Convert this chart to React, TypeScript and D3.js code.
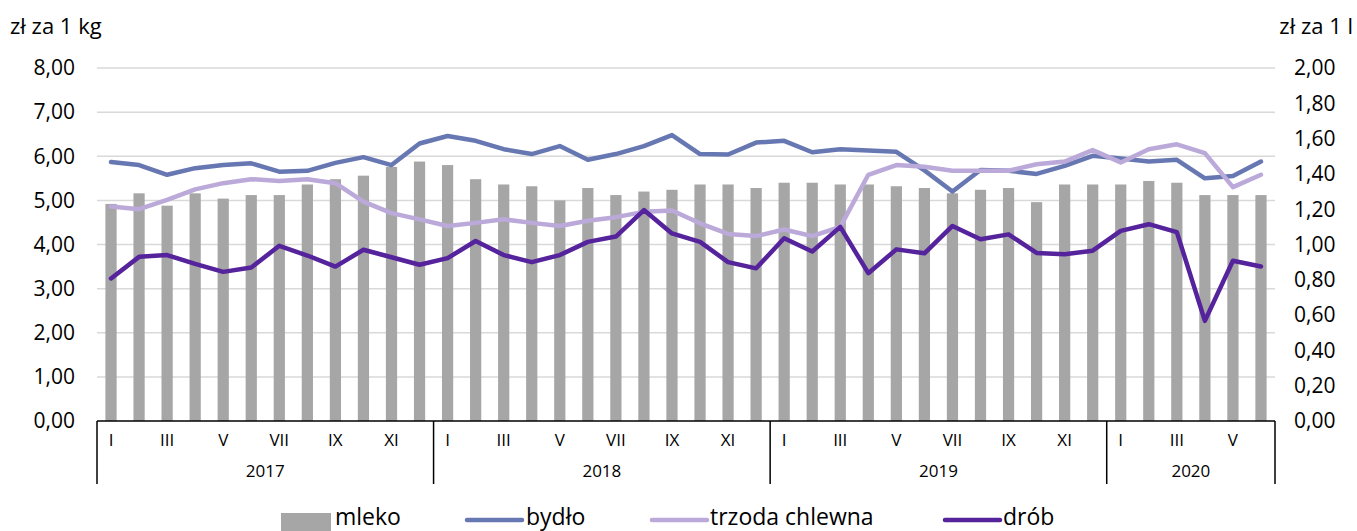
import React, { useEffect, useRef } from "react";
import * as d3 from "d3";

const years = ["2017", "2018", "2019", "2020"];
const yearMonths = [12, 12, 12, 6];
const romanMonths = ["I", "II", "III", "IV", "V", "VI", "VII", "VIII", "IX", "X", "XI", "XII"];

// zł za 1 l (right axis)
const mleko = [
  1.23, 1.29, 1.22, 1.29, 1.26, 1.28, 1.28, 1.34, 1.37, 1.39, 1.44, 1.47,
  1.45, 1.37, 1.34, 1.33, 1.25, 1.32, 1.28, 1.3, 1.31, 1.34, 1.34, 1.32,
  1.35, 1.35, 1.34, 1.34, 1.33, 1.32, 1.29, 1.31, 1.32, 1.24, 1.34, 1.34,
  1.34, 1.36, 1.35, 1.28, 1.28, 1.28,
];
// zł za 1 kg (left axis)
const bydlo = [
  5.87, 5.8, 5.58, 5.73, 5.8, 5.84, 5.65, 5.67, 5.85, 5.98, 5.8, 6.29,
  6.46, 6.35, 6.16, 6.05, 6.23, 5.92, 6.05, 6.23, 6.48, 6.05, 6.04, 6.31,
  6.35, 6.09, 6.16, 6.13, 6.1, 5.68, 5.2, 5.69, 5.67, 5.6, 5.78, 6.01,
  5.95, 5.88, 5.92, 5.5, 5.55, 5.88,
];
const trzoda = [
  4.86, 4.8, 5.01, 5.25, 5.39, 5.48, 5.44, 5.48, 5.39, 4.97, 4.71, 4.57,
  4.42, 4.49, 4.57, 4.49, 4.42, 4.54, 4.62, 4.74, 4.77, 4.48, 4.24, 4.19,
  4.34, 4.19, 4.4, 5.58, 5.8, 5.76, 5.67, 5.67, 5.67, 5.82, 5.88, 6.14,
  5.86, 6.16, 6.27, 6.07, 5.3, 5.58,
];
const drob = [
  3.23, 3.72, 3.76, 3.56, 3.38, 3.48, 3.97, 3.75, 3.5, 3.88, 3.71, 3.54,
  3.69, 4.08, 3.76, 3.6, 3.76, 4.06, 4.18, 4.78, 4.25, 4.06, 3.6, 3.46,
  4.14, 3.84, 4.4, 3.35, 3.89, 3.8, 4.42, 4.12, 4.23, 3.81, 3.78, 3.86,
  4.31, 4.46, 4.28, 2.27, 3.63, 3.5,
];

const leftTicks = [0, 1, 2, 3, 4, 5, 6, 7, 8];
const rightTicks = [0, 0.2, 0.4, 0.6, 0.8, 1.0, 1.2, 1.4, 1.6, 1.8, 2.0];

const FONT = "'Open Sans', 'Noto Sans', sans-serif";

const App = () => {
  const chartRef = useRef(null);

  useEffect(() => {
    drawChart();
  }, []);

  const drawChart = () => {
    const svg = d3.select(chartRef.current);
    svg.selectAll("*").remove();

    const width = 1357;
    const margin = { top: 68, right: 82, bottom: 110, left: 97 };
    const plotBottom = 421;

    const idx = d3.range(mleko.length);
    const x = d3
      .scaleBand()
      .domain(idx)
      .range([margin.left, width - margin.right])
      .paddingInner(0.6)
      .paddingOuter(0.3);
    const cx = (i) => x(i) + x.bandwidth() / 2;

    const yL = d3.scaleLinear().domain([0, 8]).range([plotBottom, margin.top]);
    const yR = d3.scaleLinear().domain([0, 2]).range([plotBottom, margin.top]);

    const x0 = margin.left;
    const x1 = width - margin.right;

    // gridlines
    svg
      .append("g")
      .selectAll("line")
      .data(leftTicks.slice(1))
      .join("line")
      .attr("x1", x0)
      .attr("x2", x1)
      .attr("y1", (d) => yL(d))
      .attr("y2", (d) => yL(d))
      .attr("stroke", "#d9d9d9")
      .attr("stroke-width", 1.5);

    // left axis labels
    svg
      .append("g")
      .selectAll("text")
      .data(leftTicks)
      .join("text")
      .attr("x", 75)
      .attr("y", (d) => yL(d))
      .attr("dy", "0.35em")
      .attr("text-anchor", "end")
      .style("font-family", FONT)
      .style("font-size", "21px")
      .attr("fill", "#000")
      .text((d) => d3.format(".2f")(d).replace(".", ","));

    // right axis labels
    svg
      .append("g")
      .selectAll("text")
      .data(rightTicks)
      .join("text")
      .attr("x", 1294)
      .attr("y", (d) => yR(d))
      .attr("dy", "0.35em")
      .attr("text-anchor", "start")
      .style("font-family", FONT)
      .style("font-size", "21px")
      .attr("fill", "#000")
      .text((d) => d3.format(".2f")(d).replace(".", ","));

    // axis titles
    svg
      .append("text")
      .attr("x", 10)
      .attr("y", 34)
      .style("font-family", FONT)
      .style("font-size", "22px")
      .text("zł za 1 kg");
    svg
      .append("text")
      .attr("x", 1353)
      .attr("y", 34)
      .attr("text-anchor", "end")
      .style("font-family", FONT)
      .style("font-size", "22px")
      .text("zł za 1 l");

    // bars (mleko)
    svg
      .append("g")
      .selectAll("rect")
      .data(mleko)
      .join("rect")
      .attr("x", (d, i) => x(i))
      .attr("width", x.bandwidth())
      .attr("y", (d) => yR(d))
      .attr("height", (d) => plotBottom - yR(d))
      .attr("fill", "#a6a6a6");

    // lines
    const series = [
      { data: bydlo, color: "#6777b2" },
      { data: trzoda, color: "#bba9d9" },
      { data: drob, color: "#55239b" },
    ];
    series.forEach((s) => {
      const line = d3
        .line()
        .x((d, i) => cx(i))
        .y((d) => yL(d));
      svg
        .append("path")
        .datum(s.data)
        .attr("fill", "none")
        .attr("stroke", s.color)
        .attr("stroke-width", 4.5)
        .attr("stroke-linejoin", "round")
        .attr("stroke-linecap", "round")
        .attr("d", line);
    });

    // category axis
    const axis = svg.append("g");
    axis
      .append("line")
      .attr("x1", x0)
      .attr("x2", x1)
      .attr("y1", plotBottom)
      .attr("y2", plotBottom)
      .attr("stroke", "#000")
      .attr("stroke-width", 1.5);

    let start = 0;
    const bounds = [x0];
    years.forEach((yr, k) => {
      const n = yearMonths[k];
      const left = k === 0 ? x0 : x(start) - (x.step() * x.paddingInner()) / 2;
      const right =
        k === years.length - 1 ? x1 : x(start + n - 1) + x.bandwidth() + (x.step() * x.paddingInner()) / 2;
      bounds.push(right);
      d3.range(n).forEach((m) => {
        if (m % 2 === 0) {
          axis
            .append("text")
            .attr("x", cx(start + m))
            .attr("y", 446)
            .attr("text-anchor", "middle")
            .style("font-family", FONT)
            .style("font-size", "17px")
            .text(romanMonths[m]);
        }
      });
      axis
        .append("text")
        .attr("x", (left + right) / 2)
        .attr("y", 477)
        .attr("text-anchor", "middle")
        .style("font-family", FONT)
        .style("font-size", "17px")
        .text(yr);
      start += n;
    });
    axis
      .selectAll("line.sep")
      .data(bounds)
      .join("line")
      .attr("class", "sep")
      .attr("x1", (d) => d)
      .attr("x2", (d) => d)
      .attr("y1", plotBottom)
      .attr("y2", 484)
      .attr("stroke", "#000")
      .attr("stroke-width", 1.5);

    // legend
    const legend = svg.append("g").style("font-family", FONT).style("font-size", "23px");
    legend.append("rect").attr("x", 281).attr("y", 513).attr("width", 50).attr("height", 18).attr("fill", "#a6a6a6");
    legend.append("text").attr("x", 335).attr("y", 525).text("mleko");
    const legendLines = [
      { x: 467, tx: 526, label: "bydło", color: "#6777b2" },
      { x: 652, tx: 710, label: "trzoda chlewna", color: "#bba9d9" },
      { x: 945, tx: 1003, label: "drób", color: "#55239b" },
    ];
    legendLines.forEach((l) => {
      legend
        .append("line")
        .attr("x1", l.x)
        .attr("x2", l.x + 55)
        .attr("y1", 520)
        .attr("y2", 520)
        .attr("stroke", l.color)
        .attr("stroke-width", 4.5)
        .attr("stroke-linecap", "round");
      legend.append("text").attr("x", l.tx).attr("y", 525).text(l.label);
    });
  };

  return (
    <div>
      <svg
        ref={chartRef}
        width={1357}
        height={531}
        style={{ position: "absolute", left: 0, top: 0, background: "#fff" }}
      ></svg>
    </div>
  );
};

export default App;
